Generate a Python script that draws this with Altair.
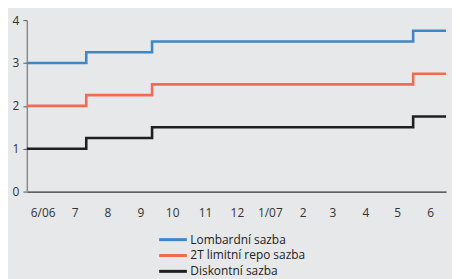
import altair as alt
import pandas as pd

dates = ["2006-06-01T00:00:00Z", "2006-07-27T00:00:00Z", "2006-09-27T00:00:00Z",
         "2007-05-31T00:00:00Z", "2007-07-01T00:00:00Z"]
lombard = [3.0, 3.25, 3.5, 3.75, 3.75]
repo = [2.0, 2.25, 2.5, 2.75, 2.75]
diskont = [1.0, 1.25, 1.5, 1.75, 1.75]
series_names = ["Lombardní sazba", "2T limitní repo sazba", "Diskontní sazba"]
colors = ["#3e86c8", "#f26a4f", "#1f1f1f"]
month_ticks = ["2006-06-01", "2006-07-01", "2006-08-01", "2006-09-01", "2006-10-01",
               "2006-11-01", "2006-12-01", "2007-01-01", "2007-02-01", "2007-03-01",
               "2007-04-01", "2007-05-01", "2007-06-01"]
month_labels = ["6/06", "7", "8", "9", "10", "11", "12", "1/07", "2", "3", "4", "5", "6"]

rows = []
for name, vals in zip(series_names, [lombard, repo, diskont]):
    for d, v in zip(dates, vals):
        rows.append({"date": d, "value": v, "series": name})
df = pd.DataFrame(rows)

def ms(s):
    return int(pd.Timestamp(s, tz="UTC").value // 1_000_000)

tick_values = [ms(s) for s in month_ticks]
label_arr = "[" + ",".join(f"'{l}'" for l in month_labels) + "]"
label_expr = f"{label_arr}[(utcyear(datum.value)-2006)*12 + utcmonth(datum.value) - 5]"

chart = alt.Chart(df).mark_line(interpolate="step-after", strokeWidth=2.6).encode(
    x=alt.X("date:T",
            scale=alt.Scale(type="utc", domain=[ms("2006-06-01"), ms("2007-07-01")]),
            axis=alt.Axis(title=None, values=tick_values, labelExpr=label_expr,
                          ticks=False, labelOffset=16, labelPadding=16,
                          domainColor="#333333", domainWidth=1.3, grid=False,
                          labelFlush=False, labelOverlap=False)),
    y=alt.Y("value:Q", scale=alt.Scale(domain=[0, 4]),
            axis=alt.Axis(title=None, values=[0, 1, 2, 3, 4], grid=False,
                          tickSize=4, tickColor="#555555", domainColor="#8a8a8a",
                          domainWidth=1.5, labelPadding=4)),
    color=alt.Color("series:N", sort=series_names,
                    scale=alt.Scale(domain=series_names, range=colors),
                    legend=alt.Legend(title=None, orient="none", legendX=139, legendY=213,
                                      direction="vertical", symbolType="M-2,0H2",
                                      symbolSize=196, symbolStrokeWidth=3,
                                      labelFontSize=12, rowPadding=1,
                                      labelColor="#222222", labelOffset=9)),
).properties(
    width=423, height=173, background="#e7e8ea",
    padding={"left": 4, "top": 5, "right": 0, "bottom": 0}
).configure_view(stroke=None).configure_axis(
    labelFont="Open Sans", labelFontSize=12, labelColor="#333333"
).configure_legend(labelFont="Open Sans")

chart.save("out.html", embed_options={"renderer": "svg", "actions": False})
